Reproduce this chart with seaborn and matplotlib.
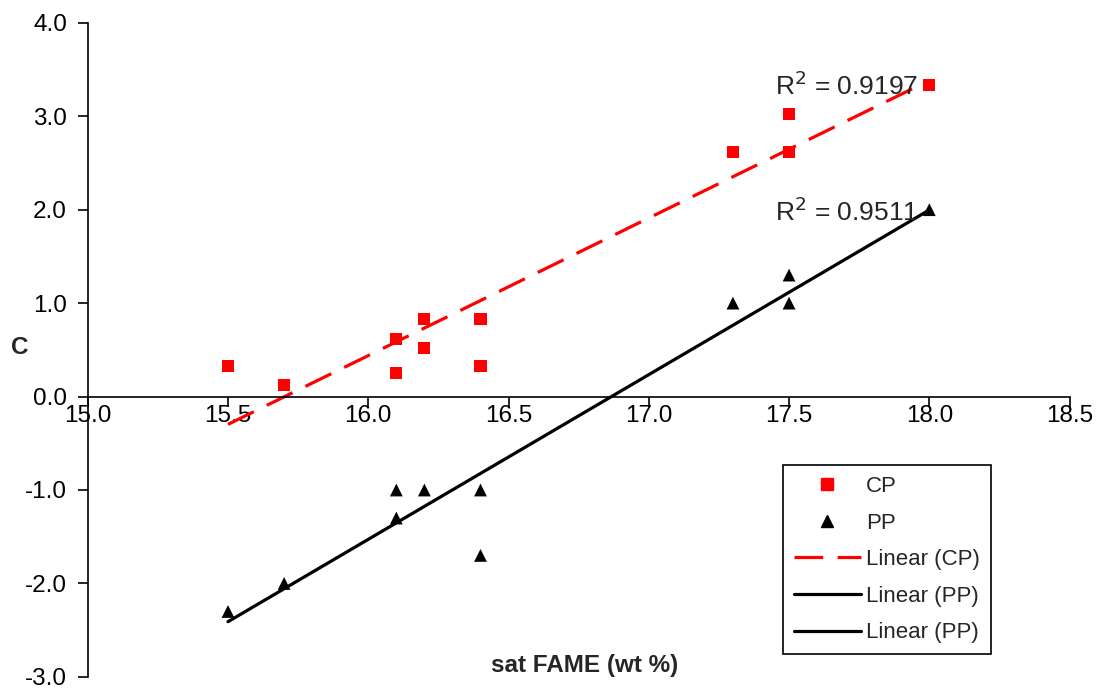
import numpy as np
import pandas as pd
import matplotlib
matplotlib.use("Agg")
import matplotlib.pyplot as plt
from matplotlib.lines import Line2D
import seaborn as sns

# data
cp_x = [15.5, 15.7, 16.1, 16.1, 16.2, 16.2, 16.4, 16.4, 17.3, 17.5, 17.5, 18.0]
cp_y = [0.33, 0.12, 0.62, 0.25, 0.83, 0.52, 0.83, 0.33, 2.62, 3.02, 2.62, 3.33]
pp_x = [15.5, 15.7, 16.1, 16.1, 16.2, 16.4, 16.4, 17.3, 17.5, 17.5, 18.0]
pp_y = [-2.3, -2.0, -1.0, -1.3, -1.0, -1.0, -1.7, 1.0, 1.3, 1.0, 2.0]
r2_labels = ["R$^2$ = 0.9197", "R$^2$ = 0.9511"]
x_ticks = [15.0, 15.5, 16.0, 16.5, 17.0, 17.5, 18.0, 18.5]
y_ticks = [-3.0, -2.0, -1.0, 0.0, 1.0, 2.0, 3.0, 4.0]

sns.set_style("white")
plt.rcParams['font.family'] = ['Liberation Sans', 'DejaVu Sans']

cp = pd.DataFrame({"x": cp_x, "y": cp_y})
pp = pd.DataFrame({"x": pp_x, "y": pp_y})

fig = plt.figure(figsize=(10.97, 6.9), dpi=100)
ax = fig.add_axes([0.080, 0.019, 0.895, 0.948])

sns.regplot(data=cp, x="x", y="y", scatter=False, ci=None, ax=ax,
            line_kws=dict(color="#ff0000", lw=2.3, dashes=(9, 4.5)))
sns.regplot(data=pp, x="x", y="y", scatter=False, ci=None, ax=ax,
            line_kws=dict(color="black", lw=2.3))
sns.scatterplot(data=cp, x="x", y="y", marker="s", s=75, color="#ff0000",
                edgecolor="none", ax=ax, zorder=3)
sns.scatterplot(data=pp, x="x", y="y", marker="^", s=85, color="black",
                edgecolor="none", ax=ax, zorder=3)

ax.set_xlim(15.0, 18.5)
ax.set_ylim(-3.0, 4.0)
ax.set_xticks(x_ticks)
ax.set_yticks(y_ticks)
ax.set_xticklabels([f"{v:.1f}" for v in x_ticks])
ax.set_yticklabels([f"{v:.1f}" for v in y_ticks])

ax.spines['left'].set_position(('data', 15.0))
ax.spines['bottom'].set_position(('data', 0.0))
ax.spines['top'].set_visible(False)
ax.spines['right'].set_visible(False)
for s in ('left', 'bottom'):
    ax.spines[s].set_color('black')
    ax.spines[s].set_linewidth(1.2)
ax.tick_params(direction='out', length=7, width=1.2, color='black',
               labelsize=17.5, labelcolor='black', left=True, bottom=True)
ax.tick_params(axis='y', pad=8)
ax.tick_params(axis='x', pad=-1)

ax.set_xlabel("")
ax.set_ylabel("")
fig.text(0.533, 0.036, "sat FAME (wt %)", ha='center', va='center',
         fontsize=17.5, fontweight='bold')
fig.text(0.018, 0.497, "C", ha='center', va='center',
         fontsize=17.5, fontweight='bold')

ax.text(17.45, 3.33, r2_labels[0], fontsize=19, va='center', ha='left')
ax.text(17.45, 1.98, r2_labels[1], fontsize=19, va='center', ha='left')

handles = [
    Line2D([], [], ls='none', marker='s', color='#ff0000', markersize=8),
    Line2D([], [], ls='none', marker='^', color='black', markersize=9),
    Line2D([], [], color='#ff0000', lw=2.3, dashes=(9, 4.5)),
    Line2D([], [], color='black', lw=2.3),
    Line2D([], [], color='black', lw=2.3),
]
labels = ["CP", "PP", "Linear (CP)", "Linear (PP)", "Linear (PP)"]
leg = fig.legend(handles, labels, loc='upper left',
                 bbox_to_anchor=(783 / 1097, 1 - 465 / 690),
                 fontsize=16, frameon=True, fancybox=False, framealpha=1,
                 edgecolor='black', handlelength=3.0, labelspacing=0.7,
                 borderpad=0.5, handletextpad=0.25, borderaxespad=0)
leg.get_frame().set_linewidth(1.2)

fig.savefig("out.png", dpi=100)
